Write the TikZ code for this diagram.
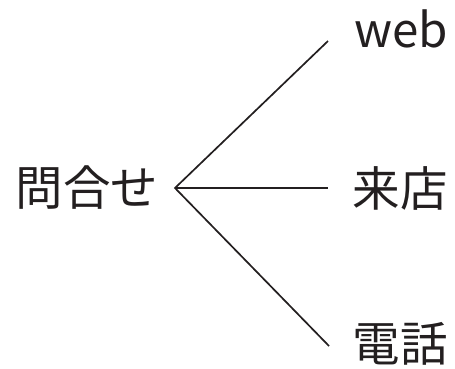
\documentclass[tikz,border=0pt]{standalone}
\usepackage{fontspec}
\setmainfont{Noto Sans CJK JP}
\definecolor{txt}{HTML}{231F20}
\begin{document}
\begin{tikzpicture}[x=1pt,y=-1pt,
  lbl/.style={inner sep=0pt,text=txt,font=\fontsize{47.5}{50}\selectfont},
  edge/.style={line width=1.7pt,draw=txt}]
\useasboundingbox (0,0) rectangle (455,368);
\node[lbl] (root) at (87,188) {問合せ};
\node[lbl,anchor=base] (web) at (401,47) {web};
\node[lbl] (shop) at (400,188) {来店};
\node[lbl] (tel) at (400,344) {電話};
\coordinate (o) at (175,188);
\coordinate (e1) at (328,41);
\coordinate (e2) at (328,188);
\coordinate (e3) at (329,346);
\draw[edge] (e1) -- (o) -- (e3);
\draw[edge] (o) -- (e2);
\end{tikzpicture}
\end{document}
